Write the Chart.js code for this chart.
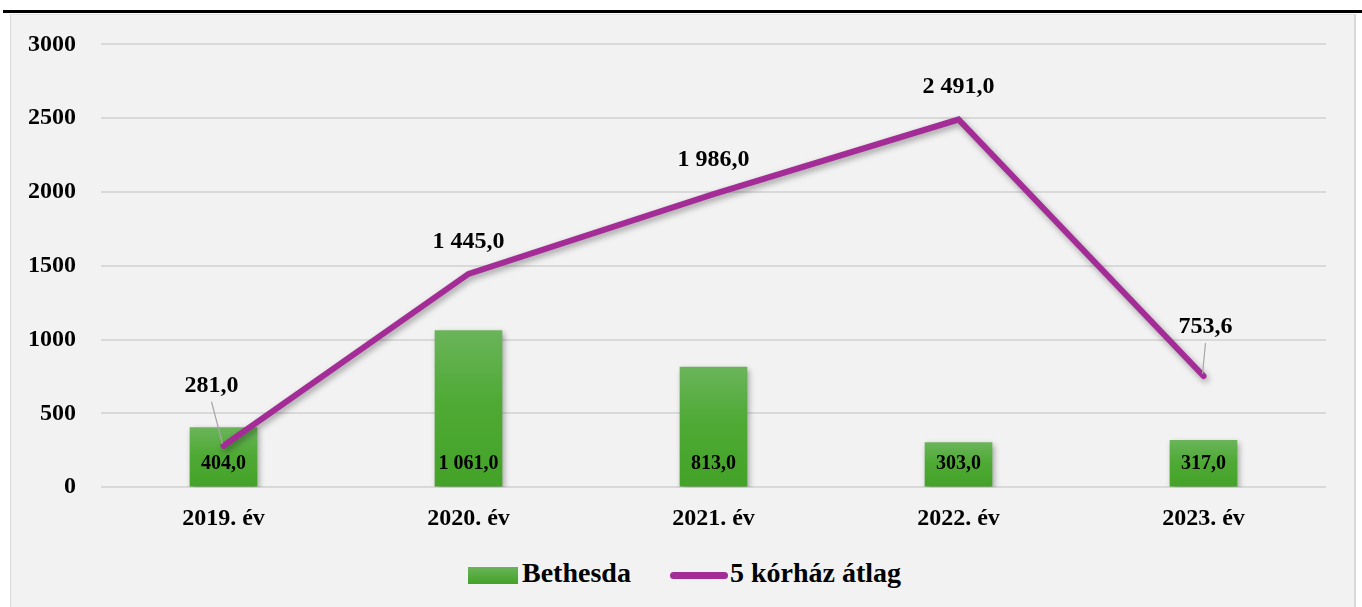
<!DOCTYPE html>
<html>
<head>
<meta charset="utf-8">
<script src="https://cdn.jsdelivr.net/npm/chart.js"></script>
<style>
  body { margin: 0; background: #fff; width: 1362px; height: 607px; overflow: hidden; position: relative; font-family: "Liberation Serif", serif; }
  #rule { position: absolute; left: 3px; top: 10px; right: 0; height: 3px; background: #000; }
  #panel { position: absolute; left: 10px; top: 14px; width: 1343px; height: 600px; background: #f2f2f2; border-left: 1px solid #d9d9d9; border-right: 2px solid #d9d9d9; border-top: 1px solid #e4e4e4; }
  #chart { position: absolute; left: 11px; top: 5px; }
  .lg { position: absolute; font-weight: bold; font-size: 28px; line-height: 28px; color: #000; top: 559px; }
  #boxBar { position: absolute; left: 468px; top: 567px; width: 50px; height: 17px; background: linear-gradient(#6ab45a, #43a227); }
  #boxLine { position: absolute; left: 670px; top: 572px; width: 58px; height: 7px; border-radius: 4px; background: #a32c96; }
</style>
</head>
<body>
<div id="rule"></div>
<div id="panel"></div>
<canvas id="chart" width="1343" height="537"></canvas>
<div id="boxBar"></div><span class="lg" style="left:522px">Bethesda</span>
<div id="boxLine"></div><span class="lg" style="left:730px">5 kórház átlag</span>
<script>
// ===== Data =====
const years = ['2019. év', '2020. év', '2021. év', '2022. év', '2023. év'];
const bethesda = [404, 1061, 813, 303, 317];
const avgFive = [281, 1445, 1986, 2491, 753.6];
const yTicks = [0, 500, 1000, 1500, 2000, 2500, 3000];

// label nudges for the line values [dx, dy, leader line]
const lineLabelShift = [[-12, -60, true], [0, -32, false], [0, -34, false], [0, -33, false], [2, -49, true]];

function huNum(v) {
  const parts = v.toFixed(1).split('.');
  const intPart = parts[0].replace(/\B(?=(\d{3})+(?!\d))/g, ' ');
  return intPart + ',' + parts[1];
}

const serif = '"Liberation Serif", "Times New Roman", serif';

// soft shadow under bars and the line
const shadowPlugin = {
  id: 'shadow',
  beforeDatasetDraw(chart) {
    const c = chart.ctx;
    c.save();
    c.shadowColor = 'rgba(0,0,0,0.35)';
    c.shadowBlur = 6;
    c.shadowOffsetX = 2;
    c.shadowOffsetY = 3;
  },
  afterDatasetDraw(chart) {
    chart.ctx.restore();
  }
};

const valueLabels = {
  id: 'valueLabels',
  afterDatasetsDraw(chart) {
    const c = chart.ctx;
    const yScale = chart.scales.y;
    c.save();
    c.fillStyle = '#000';
    c.textAlign = 'center';
    c.textBaseline = 'middle';

    // bar values, inside near the base
    c.font = 'bold 20px ' + serif;
    chart.getDatasetMeta(0).data.forEach((el, i) => {
      c.fillText(huNum(bethesda[i]), el.x, yScale.getPixelForValue(0) - 23);
    });

    // line values above the points
    c.font = 'bold 24px ' + serif;
    chart.getDatasetMeta(1).data.forEach((pt, i) => {
      const [dx, dy, leader] = lineLabelShift[i];
      const tx = pt.x + dx, ty = pt.y + dy;
      if (leader) {
        c.strokeStyle = '#a6a6a6';
        c.lineWidth = 1.2;
        c.beginPath();
        c.moveTo(tx, ty + 16);
        c.lineTo(pt.x - 1, pt.y - 2);
        c.stroke();
      }
      c.fillText(huNum(avgFive[i]), tx, ty);
    });
    c.restore();
  }
};

function barGradient(ctx) {
  const chart = ctx.chart;
  if (!chart.chartArea || ctx.dataIndex === undefined) return '#4fa93a';
  const y = chart.scales.y;
  const top = y.getPixelForValue(bethesda[ctx.dataIndex]);
  const base = y.getPixelForValue(0);
  const g = chart.ctx.createLinearGradient(0, top, 0, base);
  g.addColorStop(0, '#6ab45a');
  g.addColorStop(0.45, '#4faa35');
  g.addColorStop(1, '#43a227');
  return g;
}

new Chart(document.getElementById('chart'), {
  data: {
    labels: years,
    datasets: [
      {
        type: 'bar',
        label: 'Bethesda',
        data: bethesda,
        backgroundColor: barGradient,
        barThickness: 67,
        order: 2
      },
      {
        type: 'line',
        label: '5 kórház átlag',
        data: avgFive,
        borderColor: '#a32c96',
        borderWidth: 6,
        borderJoinStyle: 'miter',
        borderCapStyle: 'round',
        pointRadius: 0,
        tension: 0,
        order: 1
      }
    ]
  },
  plugins: [shadowPlugin, valueLabels],
  options: {
    responsive: false,
    animation: false,
    layout: { padding: { top: 20, right: 28, bottom: 0, left: 0 } },
    plugins: {
      legend: { display: false },
      tooltip: { enabled: false }
    },
    scales: {
      x: {
        grid: { display: false },
        border: { display: false },
        ticks: { color: '#000', padding: 9, font: { family: serif, size: 24, weight: 'bold' } }
      },
      y: {
        min: 0,
        max: 3000,
        afterFit(scale) { scale.width = 90; },
        afterBuildTicks(scale) { scale.ticks = yTicks.map(v => ({ value: v })); },
        grid: { color: '#d9d9d9', lineWidth: 2, drawTicks: false },
        border: { display: false },
        ticks: {
          color: '#000',
          padding: 25,
          font: { family: serif, size: 24, weight: 'bold' },
          callback: v => String(v)
        }
      }
    }
  }
});
</script>
</body>
</html>
